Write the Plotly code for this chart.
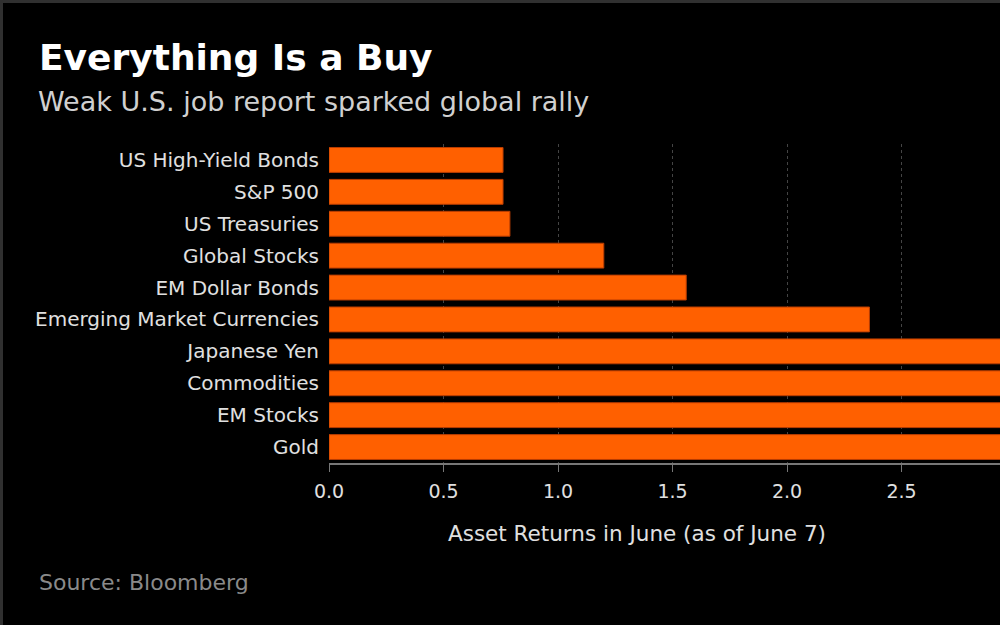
import plotly.graph_objects as go

categories = ["US High-Yield Bonds", "S&P 500", "US Treasuries", "Global Stocks",
              "EM Dollar Bonds", "Emerging Market Currencies", "Japanese Yen",
              "Commodities", "EM Stocks", "Gold"]
returns = [0.76, 0.76, 0.79, 1.20, 1.56, 2.36, 3.3, 3.6, 3.9, 4.2]
tick_vals = [0.0, 0.5, 1.0, 1.5, 2.0, 2.5, 3.0]

W, H = 1000, 625
L, R, T, B = 329, 0, 144, 162

FONT = "DejaVu Sans"

fig = go.Figure(go.Bar(
    x=returns, y=categories, orientation="h",
    marker=dict(color="#ff6000", line=dict(color="#b83c00", width=1)),
    width=0.78,
))

fig.update_layout(
    width=W, height=H,
    margin=dict(l=L, r=R, t=T, b=B, pad=0),
    paper_bgcolor="#000000", plot_bgcolor="#000000",
    font=dict(family=FONT, color="#e0e0e0", size=20),
    showlegend=False,
    xaxis=dict(
        range=[0, (W - L - R) / 229.0], tickvals=tick_vals, tickformat=".1f",
        showgrid=True, gridcolor="#444444", griddash="dot", gridwidth=1,
        zeroline=False, showline=True, linecolor="#777777", linewidth=2,
        ticks="outside", ticklen=7, tickcolor="#777777", tickwidth=1,
        ticklabelstandoff=3,
        tickfont=dict(size=19, color="#e0e0e0"),
    ),
    yaxis=dict(
        autorange="reversed", showgrid=False, zeroline=False, showline=False,
        ticks="", ticklabelstandoff=9,
        tickfont=dict(size=20, color="#e0e0e0"),
    ),
)

pw = W - L - R
ph = H - T - B
def px(x):
    return (x - L) / pw
def py(y):
    return (H - B - y) / ph

fig.add_annotation(text="<b>Everything Is a Buy</b>", xref="paper", yref="paper",
                   x=px(37), y=py(58), xanchor="left", yanchor="middle",
                   showarrow=False, font=dict(family=FONT, size=36, color="#ffffff"))
fig.add_annotation(text="Weak U.S. job report sparked global rally", xref="paper", yref="paper",
                   x=px(36), y=py(101), xanchor="left", yanchor="middle",
                   showarrow=False, font=dict(family=FONT, size=27, color="#d0d0d0"))
fig.add_annotation(text="Asset Returns in June (as of June 7)", xref="paper", yref="paper",
                   x=px(637), y=py(533), xanchor="center", yanchor="middle",
                   showarrow=False, font=dict(family=FONT, size=21.5, color="#e0e0e0"))
fig.add_annotation(text="Source: Bloomberg", xref="paper", yref="paper",
                   x=px(37), y=py(582), xanchor="left", yanchor="middle",
                   showarrow=False, font=dict(family=FONT, size=22, color="#8a8a8a"))

# thin frame at top and left edge
fig.add_shape(type="rect", xref="paper", yref="paper", x0=px(0), x1=px(W), y0=py(3), y1=py(0),
              fillcolor="#303030", line=dict(width=0), layer="above")
fig.add_shape(type="rect", xref="paper", yref="paper", x0=px(0), x1=px(3), y0=py(H), y1=py(0),
              fillcolor="#303030", line=dict(width=0), layer="above")

fig.write_html(
    "out.html",
    config={"displayModeBar": False},
    post_script="document.body.style.margin='0';document.body.style.background='#000';document.body.style.overflow='hidden';",
)
